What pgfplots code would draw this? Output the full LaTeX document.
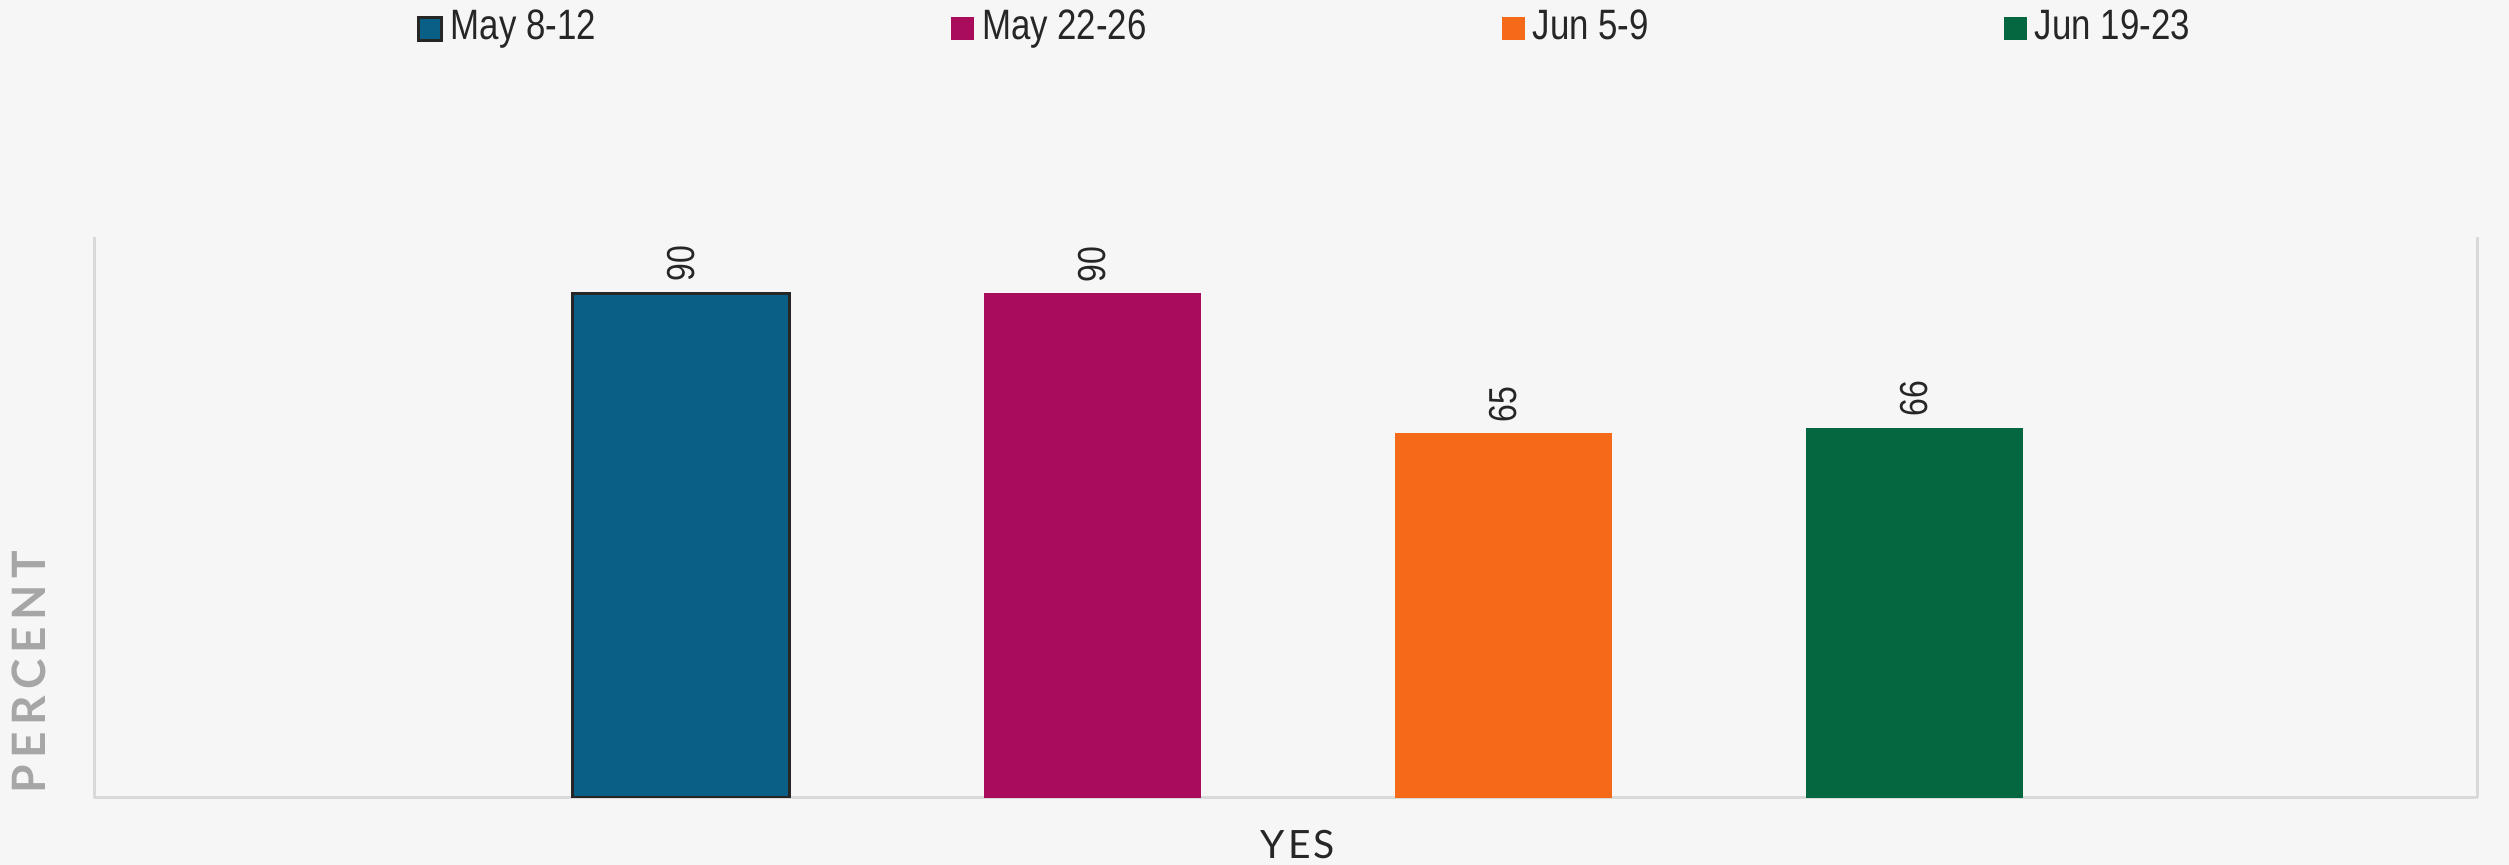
\documentclass[border=0pt]{standalone}
\usepackage{fontspec}
\setmainfont{Liberation Sans}
\newfontfamily\narrowfont[FakeStretch=0.82]{Liberation Sans}
\newfontfamily\latofont[LetterSpace=8]{Lato}
\newfontfamily\pctfont[LetterSpace=14]{Lato}
\usepackage{pgfplots}
\pgfplotsset{compat=1.18}
\definecolor{cblue}{HTML}{0A5F87}
\definecolor{cmag}{HTML}{A80C5B}
\definecolor{corange}{HTML}{F46A19}
\definecolor{cgreen}{HTML}{05673F}
\definecolor{bgc}{HTML}{F6F6F6}
\definecolor{axl}{HTML}{D9D9D9}
\definecolor{txt}{HTML}{262626}
\definecolor{lblc}{HTML}{A6A6A6}
\begin{document}
\begin{tikzpicture}[x=1pt,y=1pt]
\fill[bgc] (0,0) rectangle (501.8,173);
\useasboundingbox (0,0) rectangle (501.8,173);
\node[rotate=90, font=\pctfont\bfseries\fontsize{9.2}{10}\selectfont, text=lblc] at (5.8,38.6) {PERCENT};
\begin{axis}[
  at={(18.8pt,13.4pt)}, anchor=south west, scale only axis,
  width=476.8pt, height=112.2pt,
  xmin=-1.01, xmax=0.99, ymin=0, ymax=100,
  axis x line=bottom, axis y line=box,
  axis line style={-, draw=axl, line width=0.6pt},
  xtick={0}, xticklabels={YES}, ytick=\empty, major tick length=0pt,
  x tick label style={font=\latofont\fontsize{7.8}{9}\selectfont, text=txt, yshift=-3pt},
  /pgf/number format/assume math mode=true,
  ybar, bar width=43.4pt, bar shift=0pt,
  nodes near coords,
  every node near coord/.append style={rotate=90, anchor=west, inner sep=2pt,
    font=\narrowfont\fontsize{7.8}{9}\selectfont, text=txt},
  legend columns=4,
  legend style={at={(0.135,1.371)}, anchor=west, draw=none, fill=none, inner sep=0pt,
    nodes={inner sep=0pt, font=\narrowfont\fontsize{8.5}{10}\selectfont, text=txt},
    /tikz/every odd column/.append style={column sep=1.6pt},
    /tikz/every even column/.append style={column sep=71pt}},
  legend image code/.code={\path[#1] (0pt,-2.3pt) rectangle (4.6pt,2.3pt);},
]
\addplot[fill=cblue, draw=black!85, line width=0.6pt] coordinates {(-0.5172,90)};
\addlegendentry{May 8-12}
\addplot[fill=cmag, draw=none] coordinates {(-0.1724,90)};
\addlegendentry{May 22-26}
\addplot[fill=corange, draw=none] coordinates {(0.1724,65)};
\addlegendentry{Jun 5-9}
\addplot[fill=cgreen, draw=none] coordinates {(0.5172,66)};
\addlegendentry{Jun 19-23}
\end{axis}
\end{tikzpicture}
\end{document}
